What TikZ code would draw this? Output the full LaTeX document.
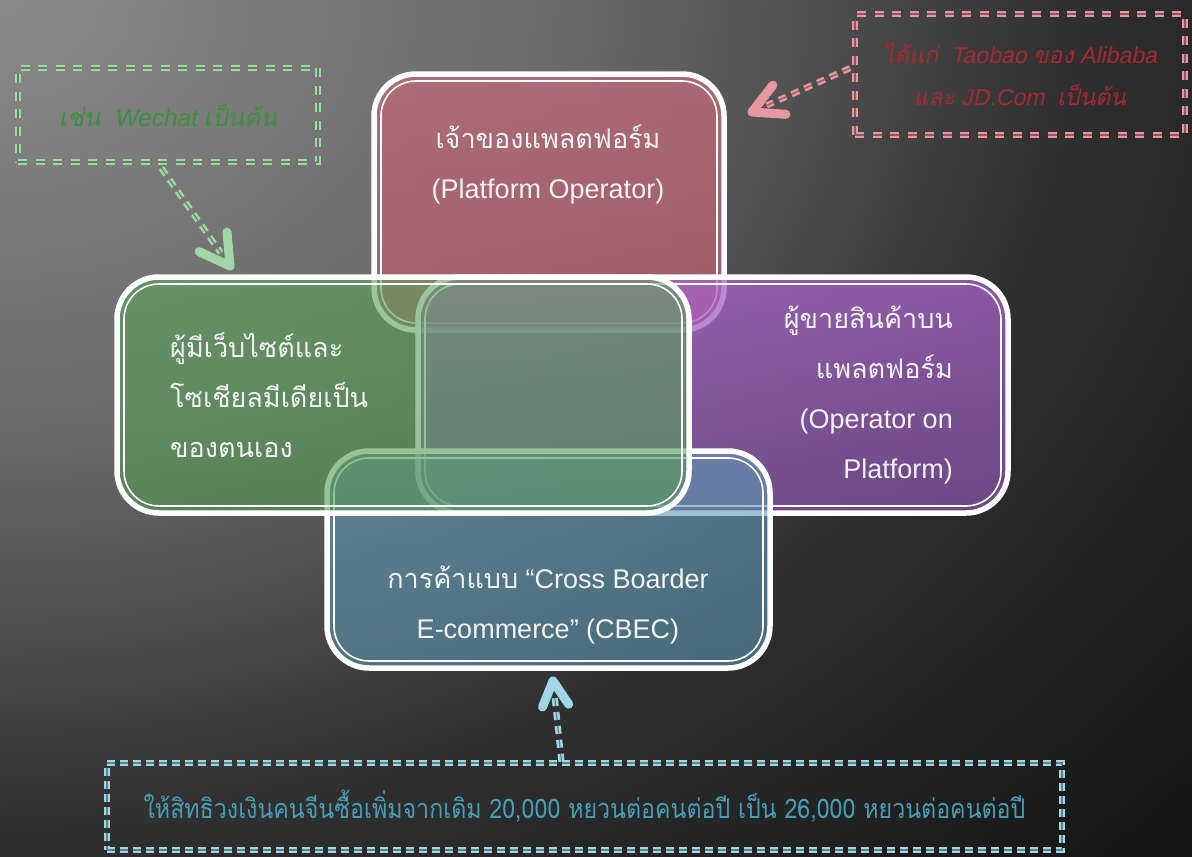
\documentclass[tikz,border=0pt]{standalone}
\usepackage{fontspec}
\setmainfont{Liberation Sans}
\newfontfamily\thai[Script=Thai]{Loma}
\newfontfamily\thaiit[Script=Thai,FakeSlant=0.2]{Loma}
\newfontfamily\latit[FakeSlant=0.2]{Liberation Sans}
\usetikzlibrary{calc}

% backdrop glow from the upper left corner (25bp = edge of the shaded ellipse)
\definecolor{bgA}{RGB}{138,138,138}
\definecolor{bgB}{RGB}{106,106,106}
\definecolor{bgC}{RGB}{82,82,82}
\definecolor{bgD}{RGB}{48,48,48}
\definecolor{bgE}{RGB}{22,22,22}
\pgfdeclareradialshading{bgglow}{\pgfpoint{0bp}{0bp}}{color(0bp)=(bgA); color(8.3bp)=(bgB); color(11.7bp)=(bgC); color(15.8bp)=(bgD); color(23.5bp)=(bgE); color(50bp)=(bgE)}

% panel tints (top, bottom)
\definecolor{redtop}{RGB}{183,108,120}
\definecolor{redbot}{RGB}{171,94,106}
\definecolor{purtop}{RGB}{170,100,204}
\definecolor{purbot}{RGB}{130,84,162}
\definecolor{blutop}{RGB}{96,156,182}
\definecolor{blubot}{RGB}{92,150,176}
\definecolor{gretop}{RGB}{94,164,94}
\definecolor{grebot}{RGB}{88,154,88}

\definecolor{gdash}{RGB}{160,215,165}
\definecolor{rdash}{RGB}{232,150,160}
\definecolor{bdash}{RGB}{160,215,230}
\definecolor{gtext}{RGB}{60,145,65}
\definecolor{rtext}{RGB}{165,40,50}
\definecolor{btext}{RGB}{72,158,182}

\tikzset{
  panel/.style n args={3}{rounded corners=42pt, draw=white, line width=5.5pt,
    top color=#1, bottom color=#2, fill opacity=#3, text opacity=1, inner sep=0pt,
    path picture={\draw[white, line width=1.6pt, rounded corners=35pt]
      ([shift={(7pt,-7pt)}]path picture bounding box.north west) rectangle
      ([shift={(-7pt,7pt)}]path picture bounding box.south east);}},
  label/.style={text=white!95!black, inner sep=0pt,
    font=\fontsize{27}{50}\selectfont},
  note/.style={draw=#1, line width=2.5pt, double=#1!60!black, double distance=1.2pt,
    dash pattern=on 9pt off 8.5pt, inner sep=0pt},
  shaft/.style={draw=#1, line width=2.5pt, double=#1!60!black, double distance=1.2pt,
    dash pattern=on 8pt off 6pt},
  head/.style={draw=#1, line width=9pt, line cap=round, line join=round},
}

\begin{document}
\begin{tikzpicture}[x=1pt,y=-1pt]
  % backdrop
  \useasboundingbox (0,0) rectangle (1192,857);
  \begin{scope}
    \clip (0,0) rectangle (1192,857);
    \shade[shading=bgglow, xscale=1.3] (0,0) circle (1300);
  \end{scope}

  % overlapping panels, bottom to top
  \node[panel={redtop}{redbot}{0.85}, minimum width=350pt, minimum height=256pt] (owner) at (549,202) {};
  \node[panel={purtop}{purbot}{0.75}, minimum width=590pt, minimum height=236pt] (seller) at (713,395) {};
  \node[panel={blutop}{blubot}{0.6}, minimum width=443pt, minimum height=217pt] (cbec) at (548.5,559.5) {};
  \node[panel={gretop}{grebot}{0.62}, minimum width=572pt, minimum height=236pt] (social) at (403,395) {};

  % panel captions
  \node[label, align=center] (ownertxt) at (548,164)
    {{\thai เจ้าของแพลตฟอร์ม}\\(Platform Operator)};
  \node[label, align=left, anchor=west] (socialtxt) at (170,395)
    {{\thai ผู้มีเว็บไซต์และ}\\{\thai โซเชียลมีเดียเป็น}\\{\thai ของตนเอง}};
  \node[label, align=right, anchor=east] (sellertxt) at (953,395)
    {{\thai ผู้ขายสินค้าบน}\\{\thai แพลตฟอร์ม}\\(Operator on\\Platform)};
  \node[label, align=center] (cbectxt) at (548,605)
    {{\thai การค้าแบบ} “Cross Boarder\\E-commerce” (CBEC)};

  % dashed notes
  \node[note=gdash, minimum width=300pt, minimum height=94pt,
    text=gtext, font=\fontsize{24.5}{30}\selectfont] (gnote) at (168,115)
    {{\thaiit เช่น}\ \ {\latit Wechat} {\thaiit เป็นต้น}};
  \node[note=rdash, minimum width=330pt, minimum height=121pt, align=center,
    text=rtext, font=\fontsize{23}{42}\selectfont] (rnote) at (1020,74.5)
    {{\thaiit ได้แก่}\ \ {\latit Taobao} {\thaiit ของ} {\latit Alibaba}\\
     {\thaiit และ} {\latit JD.Com}\ \ {\thaiit เป็นต้น}};
  \node[note=bdash, minimum width=955pt, minimum height=87pt,
    dash pattern=on 8pt off 5pt,
    text=btext, font=\fontsize{27}{30}\selectfont] (bnote) at (584.5,806.5)
    {\scalebox{0.86}[1]{\thai ให้สิทธิวงเงินคนจีนซื้อเพิ่มจากเดิม 20,000 หยวนต่อคนต่อปี เป็น 26,000 หยวนต่อคนต่อปี}};

  % pointers from the notes to the panels
  \coordinate (gtip) at (230,266);
  \coordinate (rtip) at (752,112);
  \coordinate (btip) at (553,681);

  \draw[shaft=gdash, shorten <=6pt, shorten >=16pt] ([xshift=-10pt]gnote.south) -- (gtip);
  \draw[head=gdash] ($(gtip)!34pt!30:([xshift=-10pt]gnote.south)$) -- (gtip)
    -- ($(gtip)!34pt!-30:([xshift=-10pt]gnote.south)$);

  \draw[shaft=rdash, shorten <=4pt, shorten >=16pt] ([yshift=8pt]rnote.west) -- (rtip);
  \draw[head=rdash] ($(rtip)!34pt!28:([yshift=8pt]rnote.west)$) -- (rtip)
    -- ($(rtip)!34pt!-28:([yshift=8pt]rnote.west)$);

  \draw[shaft=bdash, shorten >=14pt] ([xshift=-23pt]bnote.north) -- (btip);
  \draw[head=bdash] ($(btip)!28pt!28:([xshift=-23pt]bnote.north)$) -- (btip)
    -- ($(btip)!28pt!-28:([xshift=-23pt]bnote.north)$);
\end{tikzpicture}
\end{document}
